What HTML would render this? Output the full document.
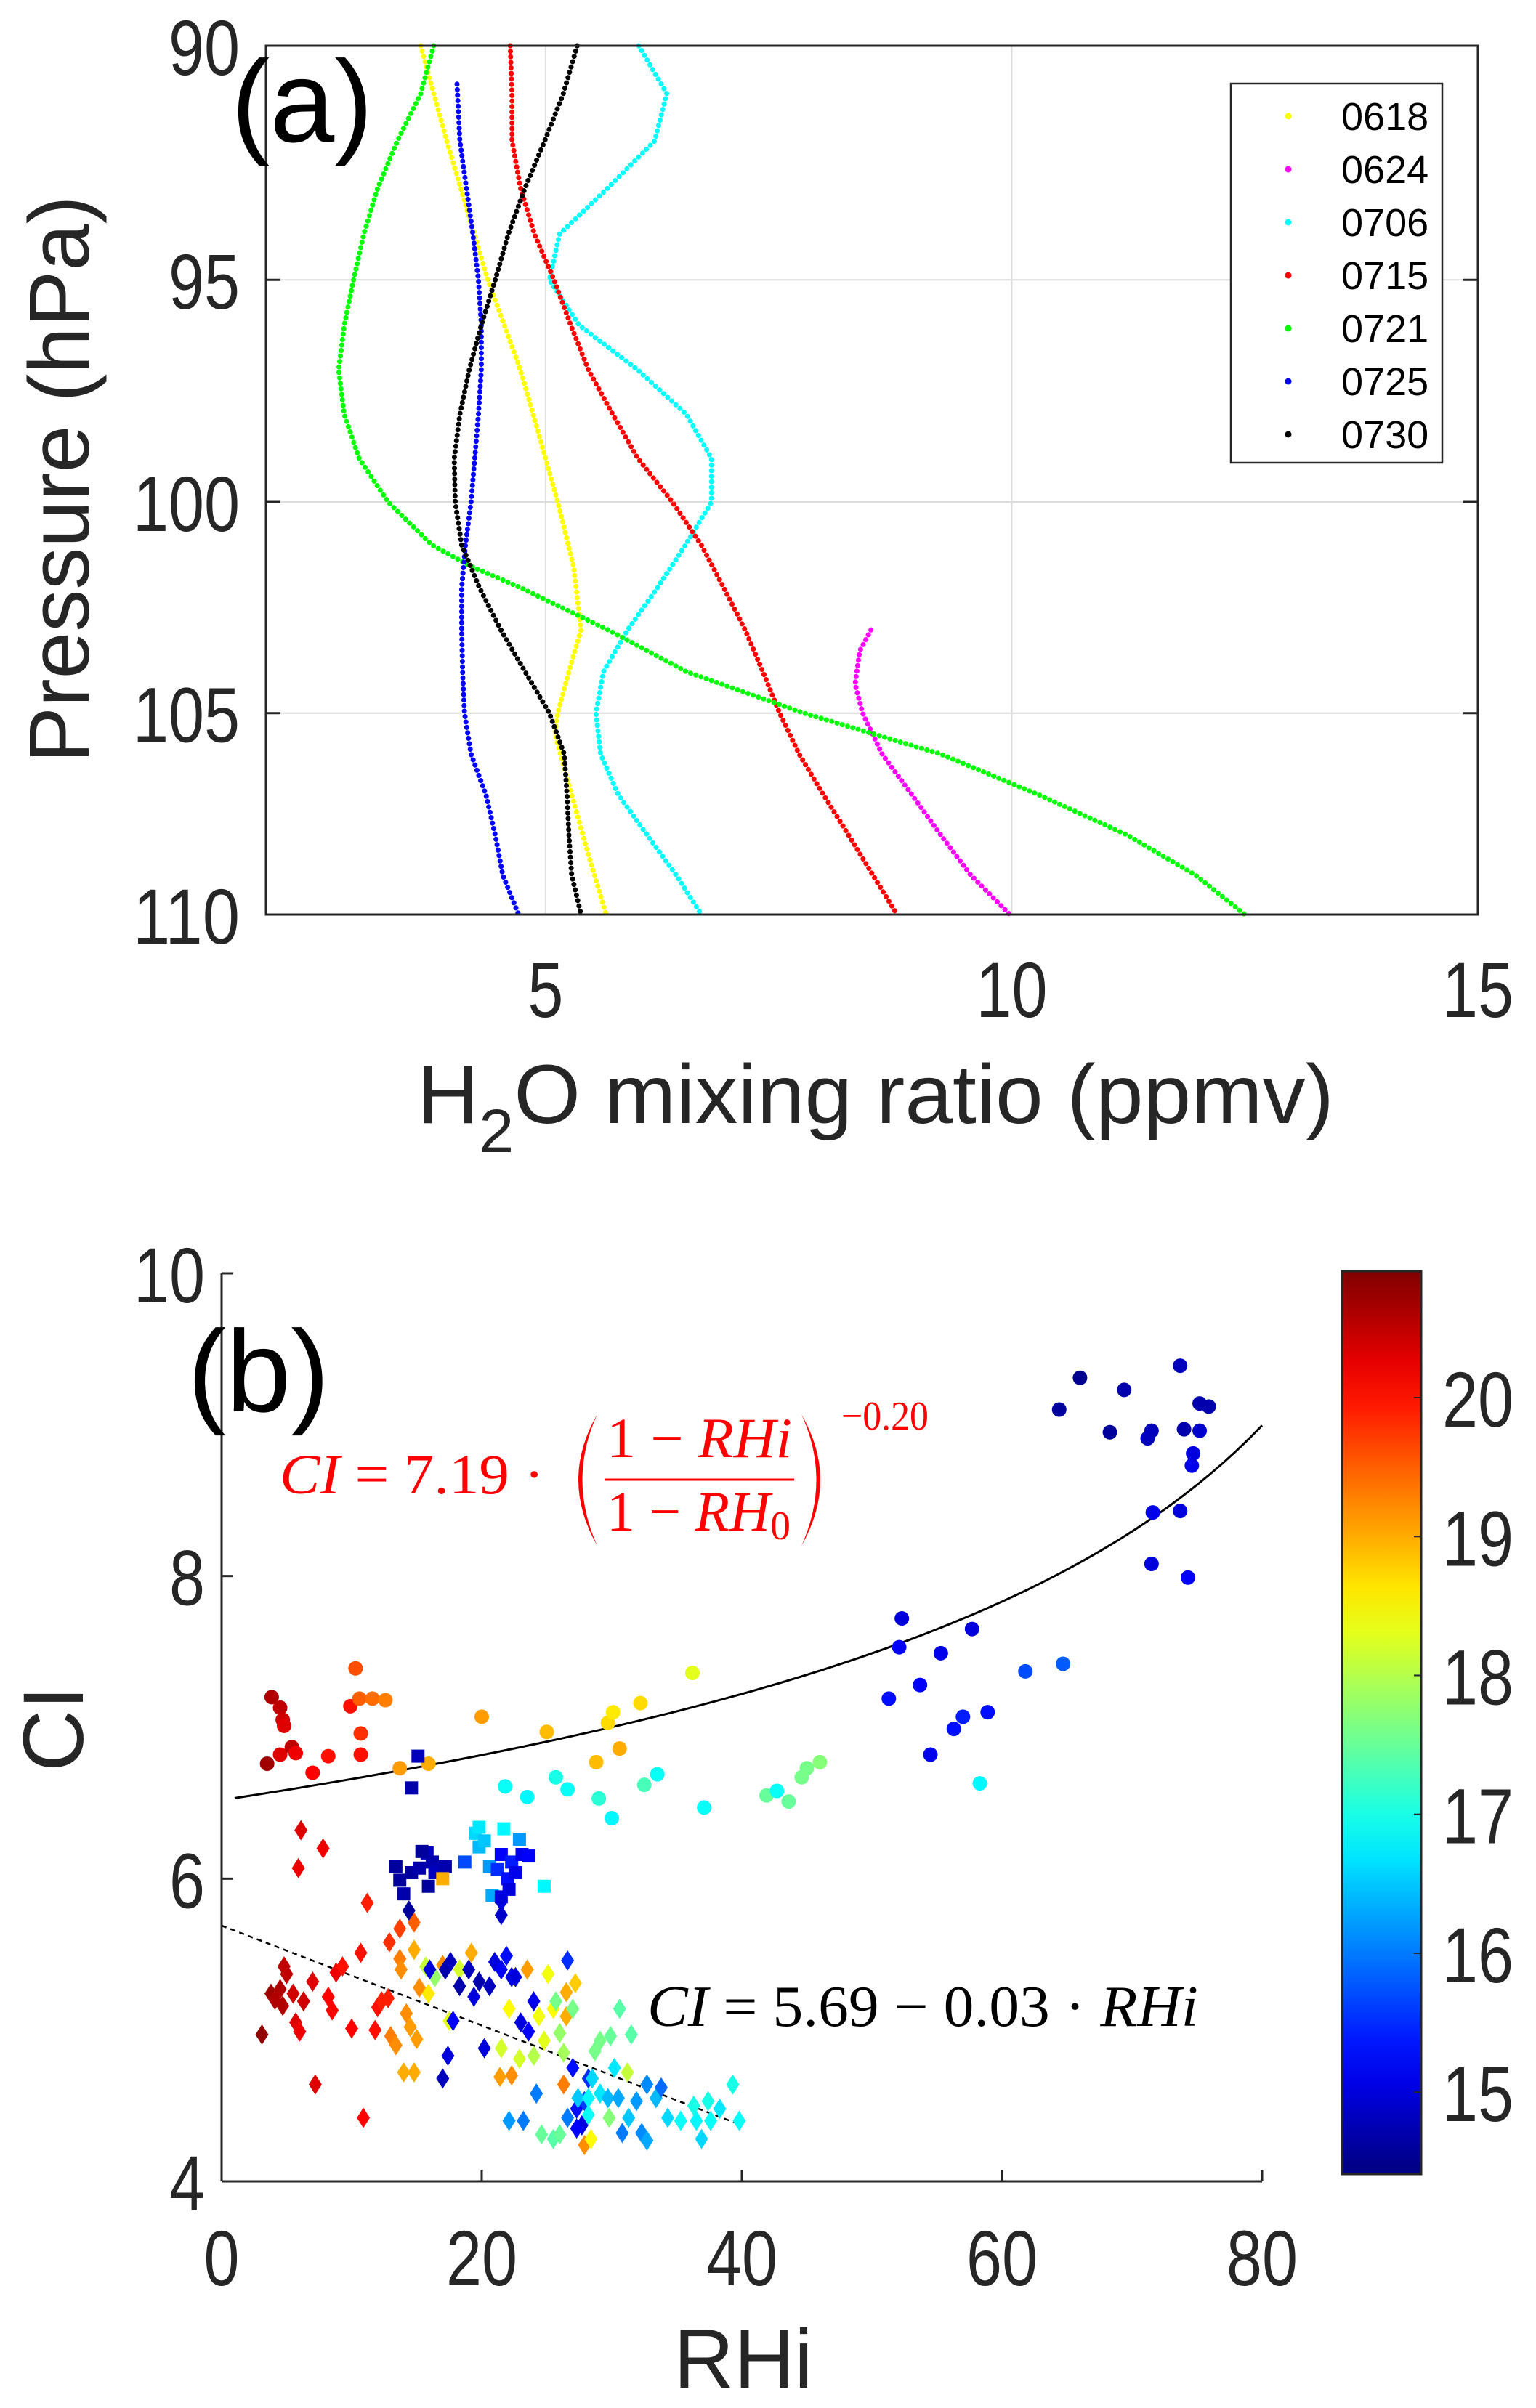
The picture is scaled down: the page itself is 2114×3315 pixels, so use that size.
<!DOCTYPE html>
<html><head><meta charset="utf-8"><title>H2O mixing ratio and CI vs RHi</title>
<style>
html,body{margin:0;padding:0;background:#fff;}
svg{display:block;font-family:"Liberation Sans",Arial,sans-serif;}
.tick{fill:#262626;font-size:108px;}
</style></head>
<body>
<svg id="fig" width="2114" height="3315" viewBox="0 0 2114 3315" xmlns="http://www.w3.org/2000/svg">
<defs>
<linearGradient id="jetgrad" x1="0" y1="1" x2="0" y2="0"></linearGradient>
</defs>
<g id="panelA"></g>
<g id="panelB"></g>
</svg>
<script>
// ---------- Panel (a) data ----------
const seriesNames = ["0618","0624","0706","0715","0721","0725","0730"];
const seriesColors = ["#ffff00","#ff00ff","#00ffff","#ff0000","#00ff00","#0000ff","#000000"];
const p0618 = [90,92,95,97,99,100,101.5,103,104,105,105.5,107,108.5,110];
const v0618 = [3.66,3.94,4.38,4.73,5.0,5.13,5.3,5.38,5.25,5.13,5.1,5.28,5.46,5.65];
const p0624 = [103,103.5,104.3,105,106,107,108,109,110];
const v0624 = [8.49,8.37,8.32,8.4,8.61,8.93,9.24,9.56,9.98];
const p0706 = [90,91,92,93,94,95,96,97,98,99,100,101,102,103,104,105,106,107,108,109,110];
const v0706 = [6.0,6.3,6.17,5.67,5.15,5.04,5.36,5.99,6.51,6.78,6.78,6.5,6.2,5.88,5.62,5.54,5.59,5.78,6.09,6.4,6.67];
const p0715 = [90,91,92,93,94,95,96,97,98,99,100,101,102,103,104,105,106,107,108,109,110];
const v0715 = [4.62,4.64,4.64,4.73,4.88,5.09,5.27,5.46,5.72,5.99,6.36,6.67,6.91,7.14,7.33,7.51,7.72,7.98,8.25,8.51,8.77];
const p0721 = [90,91,92,93,94,95,96,97,98,99,100,101,101.5,102,103,104,105,106,107,108,109,110];
const v0721 = [3.8,3.66,3.41,3.2,3.05,2.94,2.84,2.78,2.84,3.0,3.31,3.78,4.2,4.73,5.67,6.51,7.77,9.24,10.29,11.24,11.97,12.5];
const p0725 = [90.8,92,93,94,95,96,97,98,99,100,101,102,103,104,105,106,107,108,109,110];
const v0725 = [4.05,4.08,4.15,4.22,4.28,4.31,4.31,4.28,4.24,4.2,4.14,4.1,4.1,4.11,4.13,4.2,4.36,4.46,4.54,4.71];
const p0730 = [90,91,92,93,94,95,96,97,98,99,100,101,102,103,104,105,106,107,108,109,110];
const v0730 = [5.34,5.19,4.99,4.78,4.6,4.46,4.31,4.18,4.08,4.02,4.03,4.1,4.29,4.52,4.78,5.04,5.2,5.23,5.25,5.28,5.38];
const aXTicks = [5,10,15];
const aYTicks = [90,95,100,105,110];

// ---------- Panel (b) data ----------
const bXTicks = [0,20,40,60,80];
const bYTicks = [4,6,8,10];
const cbTicks = [15,16,17,18,19,20];
const circX = [3.5,3.85,4.5,4.7,4.8,4.5,5.4,5.7,7.0,8.2,9.9,10.3,10.7,10.7,10.6,11.6,12.6,13.7,15.9,20,25,28.8,29.7,30.1,30.6,32.2,36.2,
21.8,23.5,25.7,26.6,29,30,32.5,33.5,37.1,41.9,42.7,43.6,44.6,45,46,
51.3,52.1,52.3,53.7,54.5,55.3,56.3,57,57.7,58.9,58.3,61.8,64.7,64.4,66,68.3,69.4,71.2,71.5,71.6,71.5,73.7,73.7,74,74.3,74.6,74.7,75.2,75.2,75.9];
const circY = [6.76,7.2,7.13,7.05,7.01,6.82,6.87,6.83,6.7,6.81,7.14,7.39,6.96,6.82,7.19,7.19,7.18,6.73,6.76,7.07,6.97,6.77,7.03,7.1,6.86,7.16,7.36,
6.61,6.54,6.67,6.59,6.53,6.4,6.62,6.69,6.47,6.55,6.58,6.51,6.67,6.73,6.77,
7.19,7.53,7.72,7.28,6.82,7.49,6.99,7.07,7.65,7.1,6.63,7.37,7.42,9.1,9.31,8.95,9.23,8.91,8.96,8.42,8.08,9.39,8.43,8.97,7.99,8.73,8.81,8.96,9.14,9.12];
const circC = [20.7,20.6,20.5,20.4,20.3,20.3,20.5,20.2,20.1,20.0,20.0,19.6,19.8,20.0,19.5,19.4,19.3,19.1,19.0,19.1,18.9,18.9,18.7,18.6,19.0,18.7,18.3,
16.9,16.8,17.0,16.9,17.1,16.8,17.3,16.9,16.9,17.5,16.9,17.5,17.6,17.6,17.7,
15.3,15.2,15.0,15.2,15.1,15.1,15.3,15.4,15.0,15.3,16.8,15.7,15.8,14.6,14.5,14.6,14.7,14.8,14.8,15.1,15.0,14.8,15.0,14.7,15.2,15.1,15.0,14.9,14.7,14.7];
const sqX = [15.1,14.6,13.4,13.7,14,14.6,15.2,15.8,15.9,16.2,16.4,17.2,17.0,15.4,
18.7,19.5,19.8,20.2,20.6,20.8,21.2,21.5,21.7,22,22.1,22.3,22.6,22.9,23.1,23.6,24.8,19.8,21.5];
const sqY = [6.81,6.6,6.08,5.99,5.9,6.04,6.07,6.17,5.95,6.11,6.04,6.08,6.0,6.18,
6.11,6.3,6.21,6.25,6.08,5.89,6.06,6.16,6.33,6.0,5.93,6.11,6.04,6.26,6.16,6.15,5.95,6.34,5.88];
const sqC = [14.8,14.7,14.6,14.6,14.7,14.6,14.7,14.8,14.6,14.7,14.8,14.7,19.0,14.6,
15.7,16.6,16.4,16.5,16.2,16.3,15.5,15.2,16.8,15.3,15.0,15.4,15.1,16.2,15.1,15.2,16.8,16.7,15.0];
const diaX = [3.1,3.8,4.1,4.5,4.8,5.0,4.7,5.5,5.7,6,6.3,7,8.2,8.5,8.8,9.3,6.1,5.9,7.8,7.2,10,10.7,10.9,11.2,11.8,12,12.3,12.8,12.9,13.7,14.8,
13,13.4,13.7,13.8,14,14.2,14.5,14.8,15,14.8,15.2,15.9,17,19.2,21.4,22.3,23.5,26.5,27.2,27.9,26.5,26.3,
15.7,16.4,17.5,18.3,21.5,22.1,22.5,22.9,24,24.4,24.8,25.1,25.5,25.7,26,26.3,27,24.6,25.5,26,28.4,29.1,29.9,30.6,31.5,28.7,31.2,29.8,
14.4,16,17.2,17.6,18.3,19,19.4,19.8,20.6,21,21.5,21.9,22.3,22.6,23,23.6,24,17.4,17,20.2,17.8,21.5,21.5,26.6,27,27.3,27.7,27.9,28.2,27.3,
24.2,22.1,23.2,26.6,27.4,28.2,29.1,29.7,30.5,30.8,31.3,31.9,32.3,32.7,32.7,33.4,33.8,34.3,35.3,36.3,36.5,36.9,37.4,37.6,38.3,39.3,39.8,28.5,30.2,28.2];
const diaY = [4.97,5.24,5.2,5.27,5.42,5.37,5.16,5.24,5.05,4.99,5.19,5.32,5.22,5.13,5.38,5.42,6.32,6.07,6.2,4.64,5.01,5.51,4.42,5.84,5.0,5.15,5.19,5.21,5.58,5.67,5.71,
4.96,4.9,5.47,5.4,4.72,5.11,5.02,4.72,4.94,5.53,5.28,5.24,5.43,5.51,4.69,4.7,5.4,5.25,5.31,4.24,5.09,4.64,
5.42,5.35,5.06,5.4,4.88,5.14,5.35,4.81,4.83,5.09,4.93,5.37,5.14,5.19,4.98,4.85,5.14,4.31,4.28,4.31,4.28,4.93,4.96,5.14,4.97,4.86,4.72,4.42,
5.79,5.4,5.4,5.45,5.29,5.4,5.22,5.32,5.29,5.45,5.4,5.49,5.35,5.35,5.05,4.99,5.19,4.83,4.68,4.88,5.06,5.76,5.85,5.46,4.75,4.48,4.37,4.53,4.68,4.35,
4.58,4.4,4.4,4.42,4.55,4.55,4.58,4.55,4.55,4.32,4.42,4.53,4.32,4.27,4.64,4.55,4.62,4.42,4.4,4.5,4.4,4.28,4.53,4.4,4.48,4.64,4.4,4.68,4.75,4.44];
const diaC = [20.8,20.7,20.6,20.6,20.5,20.5,20.6,20.4,20.3,20.2,20.4,20.3,20.1,20.1,20.2,20.0,20.3,20.2,20.2,20.3,20.1,20.0,20.1,19.9,20.0,20.0,19.9,19.9,19.8,19.7,19.5,
19.3,19.2,19.3,19.2,19.0,19.2,19.1,19.0,19.1,19.0,19.2,18.6,19.2,19.0,19.1,19.2,19.1,19.0,18.8,19.2,19.0,19.3,
18.1,17.8,18.3,18.2,18.2,18.5,18.4,18.2,18.0,18.4,18.3,18.4,18.5,17.6,17.8,17.9,17.6,17.5,17.4,17.5,18.5,17.6,17.5,17.4,17.4,17.6,18.1,17.7,
14.6,15.0,14.7,14.8,14.7,14.8,15.0,14.7,14.8,15.0,15.2,15.3,15.1,15.0,15.0,15.2,15.1,15.0,14.8,15.0,15.2,14.9,15.0,15.5,15.3,15.3,15.0,15.6,15.5,15.2,
16.0,16.2,16.0,16.0,16.5,16.8,16.7,16.4,16.3,16.0,16.5,16.2,16.1,16.3,16.1,16.4,15.9,16.6,16.9,17.0,16.8,16.6,17.0,16.9,16.7,17.0,16.9,16.6,16.7,16.9];
const fitA = 7.19, fitExp = -0.20, fitRH0 = 0.387;
const linA = 5.69, linB = -0.033;

// ---------- helpers ----------
const NS = "http://www.w3.org/2000/svg";
function mk(tag, attrs, parent){ const e=document.createElementNS(NS,tag); for(const k in attrs) e.setAttribute(k,attrs[k]); parent.appendChild(e); return e; }
function tickText(parent, x, y, anchor, str){
  const n=String(str).length;
  const t=mk("text",{x:x,y:y,"text-anchor":anchor,class:"tick",textLength:n*49,lengthAdjust:"spacingAndGlyphs"},parent);
  t.textContent=str; return t;
}

// ---------- Panel (a) ----------
const A = document.getElementById("panelA");
const aL=366,aR=2034,aT=63,aB=1259, aXmin=2, aXmax=15, aPmin=90, aPmax=110;
const ax = v => aL + (v-aXmin)/(aXmax-aXmin)*(aR-aL);
const ay = p => aT + (Math.log(p)-Math.log(aPmin))/(Math.log(aPmax)-Math.log(aPmin))*(aB-aT);

aXTicks.forEach(t=>{
  if(t<aXmax){ const g=mk("line",{x1:ax(t),x2:ax(t),y1:aT,y2:aB,stroke:"#dcdcdc","stroke-width":2},A);
    }
  const tk=tickText(A, ax(t), 1400, "middle", t);
   
});
aYTicks.forEach(t=>{
  if(t>aPmin && t<aPmax){ const g=mk("line",{x1:aL,x2:aR,y1:ay(t),y2:ay(t),stroke:"#dcdcdc","stroke-width":2},A);
   
  const t1=mk("line",{x1:aL,x2:aL+20,y1:ay(t),y2:ay(t),stroke:"#262626","stroke-width":3},A);
   
  const t2=mk("line",{x1:aR-20,x2:aR,y1:ay(t),y2:ay(t),stroke:"#262626","stroke-width":3},A);
    }
  const tk=tickText(A, 330, ay(t)+40, "end", t);
   
});
const aSeriesP=[p0618,p0624,p0706,p0715,p0721,p0725,p0730];
const aSeriesV=[v0618,v0624,v0706,v0715,v0721,v0725,v0730];
aSeriesP.forEach((ps,i)=>{
  const pts=ps.map((p,j)=>ax(aSeriesV[i][j]).toFixed(1)+","+ay(p).toFixed(1)).join(" ");
  const pl=mk("polyline",{points:pts,fill:"none",stroke:seriesColors[i],"stroke-width":7,"stroke-linecap":"round","stroke-dasharray":"0.1 7.5"},A);
   
});
const aBox=mk("rect",{x:aL,y:aT,width:aR-aL,height:aB-aT,fill:"none",stroke:"#262626","stroke-width":3},A);
 
// legend
const leg=mk("g",{},A);  
const lb=mk("rect",{x:1694,y:115,width:291,height:522,fill:"#fff",stroke:"#262626","stroke-width":2.5},leg);
 
seriesNames.forEach((n,i)=>{
  const y=160+i*73;
  const d=mk("circle",{cx:1773,cy:y,r:4.5,fill:seriesColors[i]},leg);
   
  const t=mk("text",{x:1846,y:y+19,"font-size":54,fill:"#000"},leg); t.textContent=n;
   
});
</script>
<script>
// static labels for panel a
(function(){
const A=document.getElementById("panelA");
const NS="http://www.w3.org/2000/svg";
function mk(tag, attrs, parent){ const e=document.createElementNS(NS,tag); for(const k in attrs) e.setAttribute(k,attrs[k]); parent.appendChild(e); return e; }
const la=mk("text",{x:318,y:195,"font-size":160,fill:"#000"},A); la.textContent="(a)";
 
const yl=mk("text",{x:0,y:0,"font-size":118,fill:"#262626","text-anchor":"middle",transform:"translate(122,660) rotate(-90)",textLength:781,lengthAdjust:"spacingAndGlyphs"},A); yl.textContent="Pressure (hPa)";
 
const xl=mk("text",{x:574,y:1546,"font-size":115,fill:"#262626",textLength:1262,lengthAdjust:"spacingAndGlyphs"},A);
 
xl.innerHTML='H<tspan dy="40" font-size="84">2</tspan><tspan dy="-40">O mixing ratio (ppmv)</tspan>';
})();
</script>
<script>
// ---------- Panel (b) ----------
(function(){
const B=document.getElementById("panelB");
const NS="http://www.w3.org/2000/svg";
function mk(tag, attrs, parent){ const e=document.createElementNS(NS,tag); for(const k in attrs) e.setAttribute(k,attrs[k]); parent.appendChild(e); return e; }
function tickText(parent, x, y, anchor, str){
  const n=String(str).length;
  const t=mk("text",{x:x,y:y,"text-anchor":anchor,class:"tick",textLength:n*49,lengthAdjust:"spacingAndGlyphs"},parent);
  t.textContent=str; return t;
}
function jet(v, lo, hi){
  let t=(v-lo)/(hi-lo); t=Math.max(0,Math.min(1,t));
  const c=x=>Math.round(255*Math.max(0,Math.min(1,1.5-Math.abs(x))));
  return "rgb("+c(4*t-3)+","+c(4*t-2)+","+c(4*t-1)+")";
}
const bL=305,bR=1737,bT=1753,bB=3003, bXmin=0,bXmax=80,bYmin=4,bYmax=10;
const bx=v=>bL+(v-bXmin)/(bXmax-bXmin)*(bR-bL);
const by=v=>bB-(v-bYmin)/(bYmax-bYmin)*(bB-bT);
const cLo=14.41, cHi=20.91;

// axes
const xa=mk("line",{x1:bL,x2:bR,y1:bB,y2:bB,stroke:"#262626","stroke-width":3},B);
 
const ya=mk("line",{x1:bL,x2:bL,y1:bT,y2:bB,stroke:"#262626","stroke-width":3},B);
 
bXTicks.forEach(t=>{
  const l=mk("line",{x1:bx(t),x2:bx(t),y1:bB,y2:bB-16,stroke:"#262626","stroke-width":3},B);
   
  const tk=tickText(B, bx(t), 3146, "middle", t);
   
});
bYTicks.forEach(t=>{
  const l=mk("line",{x1:bL,x2:bL+16,y1:by(t),y2:by(t),stroke:"#262626","stroke-width":3},B);
   
  const tk=tickText(B, 282, by(t)+40, "end", t);
   
});

// fit curves
let d="";
for(let r=1;r<=80;r+=1){ const ci=fitA*Math.pow((1-r/100)/(1-fitRH0),fitExp); d+=(r===1?"M":"L")+bx(r).toFixed(1)+","+by(ci).toFixed(1); }
const fc=mk("path",{d:d,fill:"none",stroke:"#000","stroke-width":3},B);
 
const lf=mk("line",{x1:bx(0),y1:by(linA),x2:bx(40),y2:by(linA+linB*40),stroke:"#000","stroke-width":2.5,"stroke-dasharray":"7 6"},B);
 

// markers
circX.forEach((x,i)=>{
  const c=mk("circle",{cx:bx(x),cy:by(circY[i]),r:10,fill:jet(circC[i],cLo,cHi)},B);
   
});
sqX.forEach((x,i)=>{
  const s=mk("rect",{x:bx(x)-9,y:by(sqY[i])-9,width:18,height:18,fill:jet(sqC[i],cLo,cHi)},B);
   
});
diaX.forEach((x,i)=>{
  const cx=bx(x), cy=by(diaY[i]);
  const p=mk("polygon",{points:cx+","+(cy-14)+" "+(cx+9)+","+cy+" "+cx+","+(cy+14)+" "+(cx-9)+","+cy,fill:jet(diaC[i],cLo,cHi)},B);
   
});

// colorbar
const grad=document.getElementById("jetgrad");
for(let k=0;k<=20;k++){ const v=cLo+(cHi-cLo)*k/20; const s=document.createElementNS(NS,"stop"); s.setAttribute("offset",(k/20*100)+"%"); s.setAttribute("stop-color",jet(v,cLo,cHi)); grad.appendChild(s); }
const cbT=1750,cbB=2993,cbL=1847,cbR=1956;
const cy=v=>cbB-(v-cLo)/(cHi-cLo)*(cbB-cbT);
const cb=mk("rect",{x:cbL,y:cbT,width:cbR-cbL,height:cbB-cbT,fill:"url(#jetgrad)",stroke:"#262626","stroke-width":3},B);
 
cbTicks.forEach(t=>{
  const l=mk("line",{x1:cbR-10,x2:cbR,y1:cy(t),y2:cy(t),stroke:"#262626","stroke-width":2},B);
   
  const tk=tickText(B, 1985, cy(t)+40, "start", t);
   
});

// labels
const lb=mk("text",{x:258,y:1943,"font-size":160,fill:"#000"},B); lb.textContent="(b)";
 
const yl=mk("text",{x:0,y:0,"font-size":118,fill:"#262626","text-anchor":"middle",transform:"translate(114,2380) rotate(-90)"},B); yl.textContent="CI";
 
const xl=mk("text",{x:1023,y:3287,"font-size":115,fill:"#262626","text-anchor":"middle"},B); xl.textContent="RHi";
 

// red formula
const fg=mk("g",{fill:"#ff0000","font-family":"Liberation Serif, serif","font-size":78},B);
 
const f1=mk("text",{x:385,y:2056,textLength:364,lengthAdjust:"spacingAndGlyphs"},fg); f1.innerHTML='<tspan font-style="italic">CI</tspan> = 7.19 ·';
const pL=mk("path",{d:"M822,1947 Q770,2037 822,2128 Q781,2037 822,1947 Z",fill:"#ff0000"},fg);
 
const pR=mk("path",{d:"M1103,1947 Q1155,2037 1103,2128 Q1144,2037 1103,1947 Z",fill:"#ff0000"},fg);
 
const fn=mk("text",{x:835,y:2006,textLength:255,lengthAdjust:"spacingAndGlyphs"},fg); fn.innerHTML='1 − <tspan font-style="italic">RHi</tspan>';
mk("line",{x1:832,x2:1093,y1:2037,y2:2037,stroke:"#ff0000","stroke-width":3},fg);
const fd=mk("text",{x:835,y:2107,textLength:253,lengthAdjust:"spacingAndGlyphs"},fg); fd.innerHTML='1 − <tspan font-style="italic">RH</tspan><tspan font-size="56" dy="12">0</tspan>';
const fe=mk("text",{x:1158,y:1968,"font-size":56,textLength:120,lengthAdjust:"spacingAndGlyphs"},fg); fe.textContent="−0.20";

// black formula
const bg=mk("text",{x:891,y:2789,"font-family":"Liberation Serif, serif","font-size":80,fill:"#000",textLength:758,lengthAdjust:"spacingAndGlyphs"},B);
bg.innerHTML='<tspan font-style="italic">CI</tspan> = 5.69 − 0.03 · <tspan font-style="italic">RHi</tspan>';
 
})();
</script>
</body></html>
